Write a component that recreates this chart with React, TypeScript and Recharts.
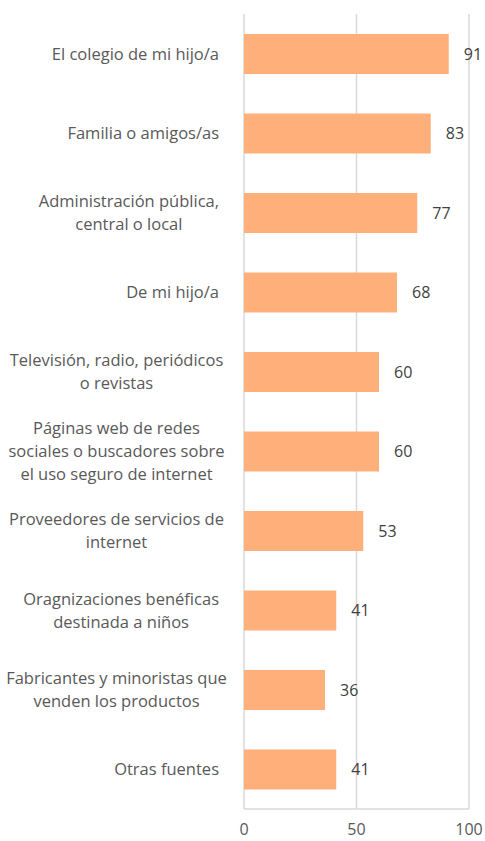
import { BarChart, Bar, XAxis, YAxis, CartesianGrid, LabelList } from "recharts";

const categories = [
  "El colegio de mi hijo/a",
  "Familia o amigos/as",
  "Administración pública,|central o local",
  "De mi hijo/a",
  "Televisión, radio, periódicos|o revistas",
  "Páginas web de redes|sociales o buscadores sobre|el uso seguro de internet",
  "Proveedores de servicios de|internet",
  "Oragnizaciones benéficas|destinada a niños",
  "Fabricantes y minoristas que|venden los productos",
  "Otras fuentes",
];
const values = [91, 83, 77, 68, 60, 60, 53, 41, 36, 41];
const xTicks = [0, 50, 100];

const FONT = "'Open Sans', sans-serif";
const FONT_SIZE = 16.5;
const TEXT = "#595959";

const data = categories.map((name, i) => ({ name, value: values[i] }));

// measure with a temporary svg text so the same font is used as in the chart
function textWidth(s: string) {
  if (typeof document === "undefined") return s.length * 8;
  const svg = document.createElementNS("http://www.w3.org/2000/svg", "svg");
  svg.setAttribute("style", "position:absolute;left:0;top:0;visibility:hidden");
  const t = document.createElementNS("http://www.w3.org/2000/svg", "text");
  t.setAttribute("font-family", FONT);
  t.setAttribute("font-size", String(FONT_SIZE));
  t.textContent = s;
  svg.appendChild(t);
  document.body.appendChild(svg);
  const w = t.getComputedTextLength();
  document.body.removeChild(svg);
  return w;
}

function CategoryTick(props: any) {
  const { x, y, payload } = props;
  const lines = String(payload.value).split("|");
  const lineH = 23;
  const start = -((lines.length - 1) * lineH) / 2;
  const right = x - 17;
  const maxW = Math.min(Math.max(...lines.map(textWidth)), 205);
  const cx = right - maxW / 2;
  return (
    <text
      x={cx}
      y={y}
      textAnchor="middle"
      fill={TEXT}
      fontFamily={FONT}
      fontSize={FONT_SIZE}
    >
      {lines.map((l, i) => (
        <tspan key={i} x={cx} dy={i === 0 ? start + 6 : lineH}>
          {l}
        </tspan>
      ))}
    </text>
  );
}

export default function App() {
  return (
    <div
      style={{
        position: "fixed",
        left: 0,
        top: 0,
        width: 485,
        height: 841,
        background: "#fff",
      }}
    >
      <BarChart
        width={485}
        height={841}
        data={data}
        layout="vertical"
        margin={{ top: 14, right: 16, left: 0, bottom: 0 }}
        barCategoryGap="25%"
      >
        <CartesianGrid horizontal={false} stroke="#D9D9D9" strokeWidth={1.5} />
        <XAxis
          type="number"
          domain={[0, 100]}
          ticks={xTicks}
          height={32}
          axisLine={{ stroke: "#D9D9D9", strokeWidth: 1.5 }}
          tickLine={false}
          tickMargin={9}
          tick={{ fill: TEXT, fontFamily: FONT, fontSize: 16 }}
        />
        <YAxis
          type="category"
          dataKey="name"
          width={244}
          axisLine={false}
          tickLine={false}
          tick={<CategoryTick />}
          interval={0}
        />
        <Bar dataKey="value" fill="#FFB07A" isAnimationActive={false}>
          <LabelList
            dataKey="value"
            position="right"
            offset={15}
            fill="#404040"
            fontFamily={FONT}
            fontSize={16}
          />
        </Bar>
      </BarChart>
    </div>
  );
}
